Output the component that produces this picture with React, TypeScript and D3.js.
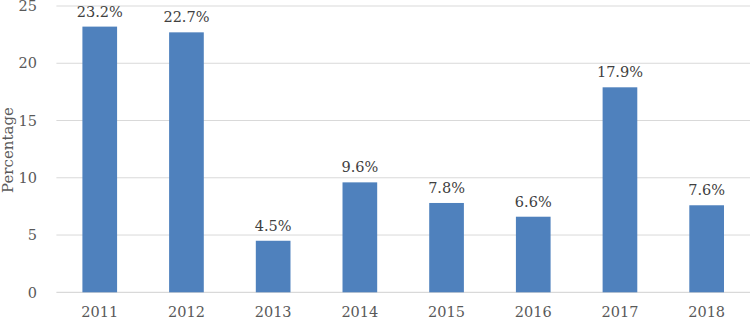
import React from "react";
import * as d3 from "d3";

const years = ["2011", "2012", "2013", "2014", "2015", "2016", "2017", "2018"];
const values = [23.2, 22.7, 4.5, 9.6, 7.8, 6.6, 17.9, 7.6];
const yTicks = [0, 5, 10, 15, 20, 25];

const W = 751;
const H = 319;
const left = 56.4;
const right = 750;
const top = 6;
const bottom = 292.3;
const font = "'DejaVu Serif', serif";

export default function App() {
  const x = d3.scaleBand<string>().domain(years).range([left, right]).paddingInner(0.6).paddingOuter(0.3);
  const y = d3.scaleLinear().domain([0, 25]).range([bottom, top]);
  return (
    <svg width={W} height={H} style={{ position: "absolute", left: 0, top: 0 }}>
      {yTicks.map((t) => (
        <g key={t}>
          <line x1={left} x2={right} y1={y(t)} y2={y(t)} stroke={t === 0 ? "#d0d0d0" : "#d9d9d9"} strokeWidth={1} />
          <text x={37} y={y(t)} dy="0.36em" textAnchor="end" fontFamily={font} fontSize={14.5} fill="#595959">
            {t}
          </text>
        </g>
      ))}
      {years.map((yr, i) => (
        <g key={yr}>
          <rect x={x(yr)} y={y(values[i])} width={x.bandwidth()} height={bottom - y(values[i])} fill="#4f81bd" />
          <text x={(x(yr) as number) + x.bandwidth() / 2} y={y(values[i]) - 10} textAnchor="middle" fontFamily={font} fontSize={14.5} fill="#404040">
            {values[i].toFixed(1)}%
          </text>
          <text x={(x(yr) as number) + x.bandwidth() / 2} y={317} textAnchor="middle" fontFamily={font} fontSize={14.5} fill="#595959">
            {yr}
          </text>
        </g>
      ))}
      <text transform={`translate(13,150) rotate(-90)`} textAnchor="middle" fontFamily={font} fontSize={15} fill="#595959">
        Percentage
      </text>
    </svg>
  );
}
